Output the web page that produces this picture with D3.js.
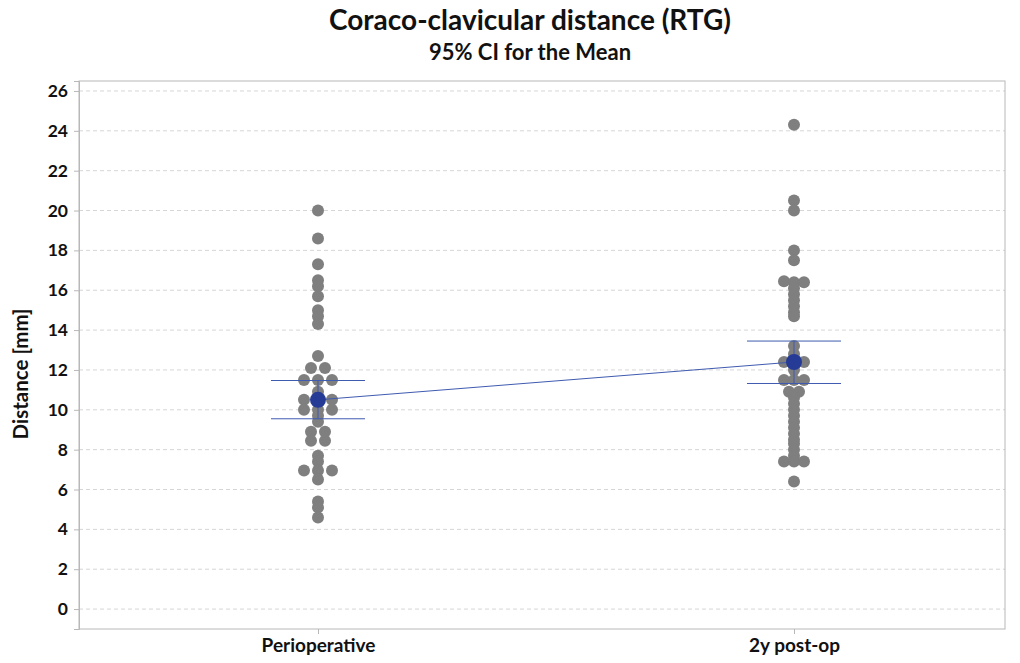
<!DOCTYPE html>
<html>
<head>
<meta charset="utf-8">
<script src="https://cdn.jsdelivr.net/npm/d3@7"></script>
<style>
  html, body { margin: 0; padding: 0; background: #fff; }
  svg text { font-family: Lato, "Open Sans", sans-serif; fill: #111; }
</style>
</head>
<body>
<svg id="chart" width="1020" height="663"></svg>
<script>
// ---- data ----
const categories = ["Perioperative", "2y post-op"];
const periValues = [20.0, 18.6, 17.3, 16.5, 16.2, 15.7, 15.0, 14.7, 14.3, 12.7,
  12.1, 12.1, 11.5, 11.5, 11.5, 10.9, 10.5, 10.5, 10.5, 10.0, 10.0, 10.0,
  9.7, 9.4, 8.9, 8.9, 8.45, 8.45, 7.7, 7.4, 6.95, 6.95, 6.95, 6.5, 5.4, 5.1, 4.6];
const postValues = [24.3, 20.5, 20.0, 18.0, 17.5, 16.45, 16.4, 16.4, 16.1, 15.8,
  15.5, 15.2, 14.9, 14.7, 13.2, 12.8, 12.4, 12.4, 12.4, 12.0, 11.5, 11.5, 11.5,
  10.9, 10.9, 10.6, 10.3, 10.0, 9.7, 9.4, 9.1, 8.8, 8.5, 8.3, 8.0, 7.7,
  7.4, 7.4, 7.4, 6.4];
const means = [10.5, 12.4];
const ciLower = [9.55, 11.32];
const ciUpper = [11.47, 13.45];
const yTicks = [0, 2, 4, 6, 8, 10, 12, 14, 16, 18, 20, 22, 24, 26];
const titleText = "Coraco-clavicular distance (RTG)";
const subtitleText = "95% CI for the Mean";
const yLabel = "Distance [mm]";

// ---- layout ----
const svg = d3.select("#chart");
const plot = { left: 79, right: 1005, top: 81, bottom: 629 };

const y = d3.scaleLinear().domain([-1.0, 26.5]).range([plot.bottom, plot.top]);
const x = d3.scalePoint().domain(categories).range([318, 794]);

// gridlines
svg.append("g").selectAll("line").data(yTicks).join("line")
  .attr("x1", plot.left).attr("x2", plot.right)
  .attr("y1", d => y(d)).attr("y2", d => y(d))
  .attr("stroke", "#d6d6d6").attr("stroke-width", 1)
  .attr("stroke-dasharray", "4,3");

// frame
svg.append("rect")
  .attr("x", plot.left).attr("y", plot.top)
  .attr("width", plot.right - plot.left).attr("height", plot.bottom - plot.top)
  .attr("fill", "none").attr("stroke", "#b8b8b8").attr("stroke-width", 1);

// y axis
const yAxis = d3.axisLeft(y).tickValues(yTicks).tickSize(5).tickPadding(6);
const gy = svg.append("g").attr("transform", `translate(${plot.left},0)`).call(yAxis);
gy.select(".domain").attr("stroke", "#b8b8b8");
gy.selectAll(".tick line").attr("stroke", "#b8b8b8");
gy.selectAll(".tick text").attr("font-size", 17.5).attr("font-weight", 700)
  .attr("font-family", "Lato, sans-serif").attr("fill", "#111");

// x axis
const xAxis = d3.axisBottom(x).tickSize(5).tickPadding(5);
const gx = svg.append("g").attr("transform", `translate(0,${plot.bottom})`).call(xAxis);
gx.select(".domain").remove();
gx.selectAll(".tick line").attr("stroke", "#b8b8b8");
gx.selectAll(".tick text").attr("font-size", 19).attr("font-weight", 700)
  .attr("font-family", "Lato, sans-serif").attr("fill", "#111");

// titles
svg.append("text").attr("x", 530).attr("y", 30).attr("text-anchor", "middle")
  .attr("font-size", 28).attr("font-weight", 700).text(titleText);
svg.append("text").attr("x", 530).attr("y", 60).attr("text-anchor", "middle")
  .attr("font-size", 22).attr("font-weight", 700).text(subtitleText);
svg.append("text")
  .attr("transform", `translate(28,${(plot.top + plot.bottom) / 2 + 19}) rotate(-90)`)
  .attr("text-anchor", "middle").attr("font-size", 20.5).attr("font-weight", 700)
  .text(yLabel);

// ---- individual dots: binned, spread horizontally within a bin ----
const binSize = 0.25, r = 6;
function layout(values, cat, sp) {
  const bins = d3.group(values, v => Math.round(v / binSize));
  const pts = [];
  for (const [, vs] of bins) {
    vs.forEach((v, i) => {
      pts.push({ v, cx: x(cat) + (i - (vs.length - 1) / 2) * sp });
    });
  }
  return pts;
}
const allPts = [
  ...layout(periValues, categories[0], 14),
  ...layout(postValues, categories[1], 10)
];
svg.append("g").selectAll("circle").data(allPts).join("circle")
  .attr("cx", d => d.cx).attr("cy", d => y(d.v)).attr("r", r)
  .attr("fill", "#7f7f7f");

// ---- CI intervals ----
const blue = "#3f5bb0";
const capHalf = 47;
const ci = svg.append("g");
categories.forEach((c, i) => {
  ci.append("line").attr("x1", x(c)).attr("x2", x(c))
    .attr("y1", y(ciLower[i])).attr("y2", y(ciUpper[i]))
    .attr("stroke", blue).attr("stroke-width", 1);
  [ciLower[i], ciUpper[i]].forEach(v => {
    ci.append("line").attr("x1", x(c) - capHalf).attr("x2", x(c) + capHalf)
      .attr("y1", y(v)).attr("y2", y(v))
      .attr("stroke", blue).attr("stroke-width", 1);
  });
});
// mean connect line
svg.append("path")
  .datum(categories.map((c, i) => [x(c), y(means[i])]))
  .attr("d", d3.line()).attr("fill", "none")
  .attr("stroke", blue).attr("stroke-width", 1);
// mean symbols
svg.append("g").selectAll("circle").data(categories).join("circle")
  .attr("cx", d => x(d)).attr("cy", (d, i) => y(means[i])).attr("r", 8)
  .attr("fill", "#253b96");
</script>
</body>
</html>
